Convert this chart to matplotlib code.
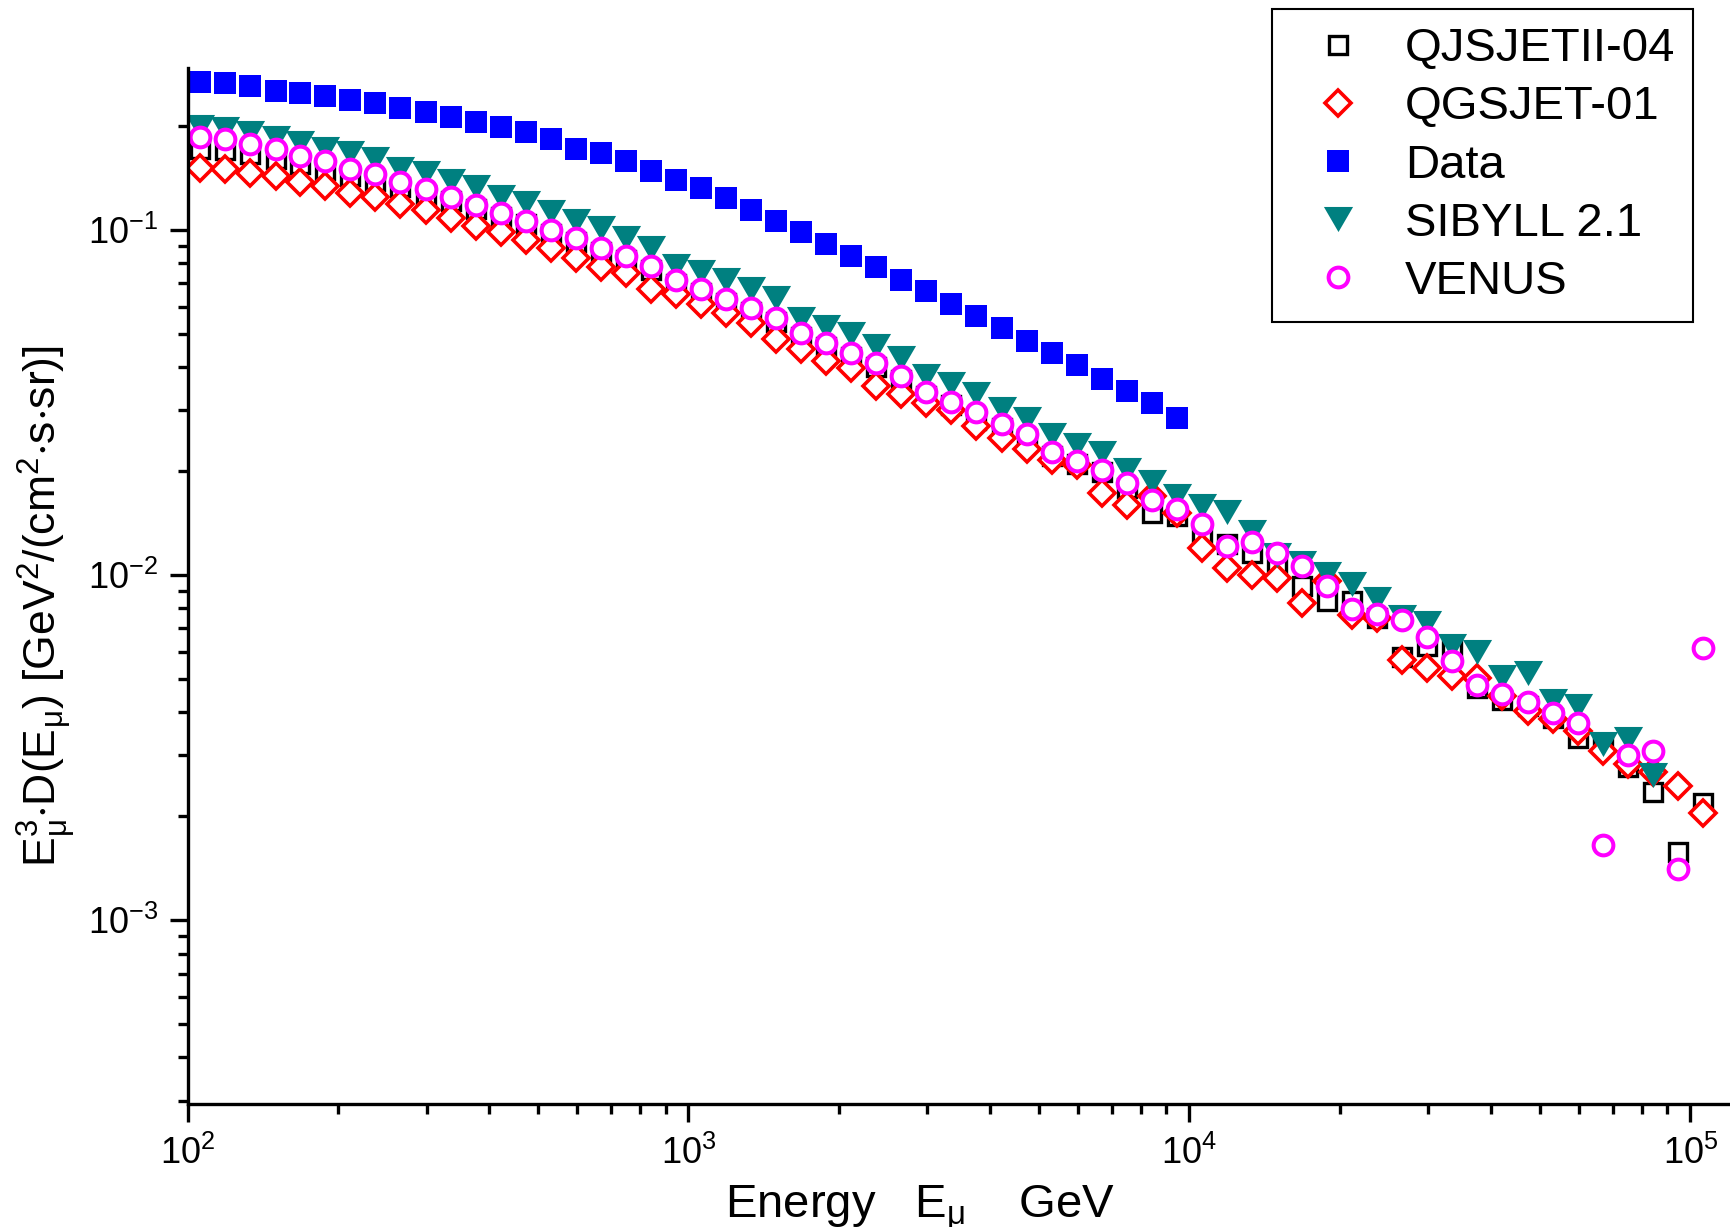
import matplotlib
matplotlib.use("Agg")
import matplotlib.pyplot as plt
from matplotlib.ticker import LogLocator, NullFormatter

plt.rcParams["font.family"] = ["Liberation Sans", "DejaVu Sans"]
plt.rcParams["mathtext.fontset"] = "custom"
plt.rcParams["mathtext.rm"] = "Liberation Sans"
plt.rcParams["mathtext.it"] = "Liberation Sans"
plt.rcParams["mathtext.default"] = "regular"
plt.rcParams["axes.unicode_minus"] = False

# muon energies (GeV), 20 bins per decade
energy = [106, 119, 133, 150, 168, 188, 211, 237, 266, 299,
          335, 376, 422, 473, 531, 596, 668, 750, 841, 944,
          1059, 1189, 1334, 1496, 1679, 1884, 2113, 2371, 2661, 2985,
          3350, 3758, 4217, 4732, 5309, 5957, 6683, 7499, 8414, 9441,
          10593, 11885, 13335, 14962, 16788, 18836, 21135, 23714, 26607, 29854,
          33497, 37584, 42170, 47315, 53088, 59566, 66834, 74989, 84140, 94406,
          105925]

# E^3 * D(E) in GeV^2/(cm^2 s sr)
qgsjet_ii = [0.172, 0.170, 0.166, 0.161, 0.155, 0.149, 0.143, 0.139, 0.133, 0.126,
             0.121, 0.115, 0.109, 0.104, 0.0974, 0.0921, 0.0862, 0.0819, 0.0766, 0.0698,
             0.0656, 0.0614, 0.0578, 0.0541, 0.0489, 0.0458, 0.0428, 0.0401, 0.0368, 0.0331,
             0.0311, 0.0282, 0.0267, 0.0248, 0.0222, 0.0210, 0.0199, 0.0179, 0.0151, 0.0148,
             0.0131, 0.0123, 0.0116, 0.0107, 0.00932, 0.00840, 0.00840, 0.00752, 0.00578, 0.00622,
             0.00615, 0.00472, 0.00433, 0.00417, 0.00384, 0.00338, 0.00323, 0.00277, 0.00235, 0.00157,
             0.00219]

qgsjet01 = [0.151, 0.150, 0.146, 0.143, 0.138, 0.134, 0.128, 0.125, 0.119, 0.114,
            0.108, 0.103, 0.0989, 0.0936, 0.0885, 0.0828, 0.0783, 0.0749, 0.0674, 0.0653,
            0.0611, 0.0574, 0.0537, 0.0483, 0.0452, 0.0416, 0.0398, 0.0352, 0.0335, 0.0315,
            0.0300, 0.0270, 0.0250, 0.0232, 0.0216, 0.0209, 0.0173, 0.0160, 0.0169, 0.0151,
            0.0120, 0.0105, 0.0100, 0.00981, 0.00831, 0.00959, 0.00764, 0.00752, 0.00569, 0.00539,
            0.00509, 0.00504, 0.00446, 0.00403, 0.00382, 0.00353, 0.00309, 0.00283, 0.00268, 0.00244,
            0.00205]

data = [0.269, 0.266, 0.262, 0.253, 0.249, 0.244, 0.238, 0.233, 0.225, 0.219,
        0.213, 0.206, 0.199, 0.192, 0.184, 0.172, 0.167, 0.158, 0.148, 0.140,
        0.132, 0.124, 0.114, 0.106, 0.0989, 0.0911, 0.0841, 0.0783, 0.0717, 0.0667,
        0.0611, 0.0564, 0.0519, 0.0478, 0.0440, 0.0405, 0.0370, 0.0342, 0.0315, 0.0285]

sibyll = [0.199, 0.196, 0.191, 0.185, 0.179, 0.172, 0.167, 0.161, 0.150, 0.146,
          0.139, 0.133, 0.125, 0.120, 0.113, 0.106, 0.101, 0.0948, 0.0885, 0.0785,
          0.0757, 0.0714, 0.0675, 0.0633, 0.0553, 0.0524, 0.0500, 0.0461, 0.0426, 0.0377,
          0.0357, 0.0335, 0.0303, 0.0284, 0.0254, 0.0238, 0.0226, 0.0201, 0.0186, 0.0170,
          0.0158, 0.0152, 0.0133, 0.0114, 0.0108, 0.0101, 0.00940, 0.00851, 0.00757, 0.00724,
          0.00624, 0.00599, 0.00505, 0.00520, 0.00432, 0.00416, 0.00324, 0.00335, 0.00264]

venus = [0.186, 0.183, 0.177, 0.172, 0.164, 0.158, 0.150, 0.145, 0.138, 0.131,
         0.125, 0.118, 0.112, 0.106, 0.100, 0.0946, 0.0885, 0.0841, 0.0787, 0.0717,
         0.0674, 0.0630, 0.0593, 0.0555, 0.0502, 0.0470, 0.0440, 0.0411, 0.0378, 0.0340,
         0.0317, 0.0296, 0.0274, 0.0257, 0.0227, 0.0214, 0.0201, 0.0185, 0.0165, 0.0155,
         0.0141, 0.0121, 0.0125, 0.0116, 0.0106, 0.00928, 0.00798, 0.00772, 0.00740, 0.00663,
         0.00563, 0.00479, 0.00451, 0.00428, 0.00399, 0.00372, 0.00165, 0.00300, 0.00309, 0.00141,
         0.00615]

# equilateral, downward pointing triangle
tri_down = [(-1, 0.86), (1, 0.86), (0, -0.86), (-1, 0.86)]

fig = plt.figure(figsize=(17.30, 12.27), dpi=100)
ax = fig.add_axes([0.1084, 0.1002, 0.8916, 0.8441])

ax.plot(energy, qgsjet_ii, ls="none", marker="s", ms=12.7, mew=2.4,
        mec="black", mfc="white", label="QJSJETII-04")
ax.plot(energy, qgsjet01, ls="none", marker="D", ms=13.2, mew=2.6,
        mec="#ff0000", mfc="white", label="QGSJET-01")
ax.plot(energy[:len(data)], data, ls="none", marker="s", ms=15.8, mew=0,
        mfc="#0000ff", label="Data")
ax.plot(energy[:len(sibyll)], sibyll, ls="none", marker=tri_down, ms=21, mew=0,
        mfc="#008080", label="SIBYLL 2.1")
ax.plot(energy, venus, ls="none", marker="o", ms=14.2, mew=2.9,
        mec="#ff00ff", mfc="white", label="VENUS")

ax.set_xscale("log")
ax.set_yscale("log")
ax.set_xlim(100, 1.2e5)
ax.set_ylim(2.93e-4, 0.294)

for side in ("top", "right"):
    ax.spines[side].set_visible(False)
for side in ("left", "bottom"):
    ax.spines[side].set_linewidth(2.4)

ax.xaxis.set_major_locator(LogLocator(base=10, numticks=10))
ax.xaxis.set_minor_locator(LogLocator(base=10, subs=range(2, 10), numticks=20))
ax.yaxis.set_major_locator(LogLocator(base=10, numticks=10))
ax.yaxis.set_minor_locator(LogLocator(base=10, subs=range(2, 10), numticks=20))
ax.xaxis.set_minor_formatter(NullFormatter())
ax.yaxis.set_minor_formatter(NullFormatter())

ax.tick_params(which="major", direction="out", length=13, width=2.4, labelsize=26)
ax.tick_params(which="minor", direction="out", length=7, width=2.4)
ax.tick_params(axis="x", which="major", pad=10)
ax.tick_params(axis="y", which="major", pad=8)

ax.set_xlabel(r"Energy   $E_{\mu}$    GeV", fontsize=34, va="baseline")
ax.xaxis.set_label_coords(0.475, -0.110)
ax.set_ylabel(r"$E_{\mu}^{3}$$\cdot$D($E_{\mu}$) [GeV$^{2}$/(cm$^{2}$$\cdot$s$\cdot$sr)]",
              fontsize=32, va="center")
ax.yaxis.set_label_coords(-0.091, 0.481)

leg = ax.legend(loc="upper left", bbox_to_anchor=(0.703, 1.057), borderaxespad=0,
                fontsize=34, frameon=True, fancybox=False, framealpha=1,
                edgecolor="black", borderpad=0.38, labelspacing=0.3,
                handlelength=2.04, handletextpad=0.4, numpoints=1)
leg.get_frame().set_linewidth(1.5)

fig.savefig("out.png", dpi=100)
